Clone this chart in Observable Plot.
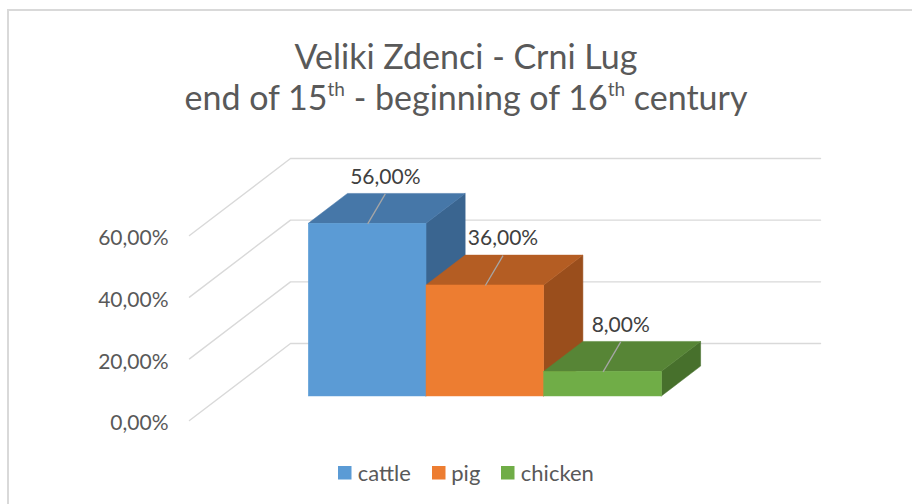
<!DOCTYPE html>
<html>
<head>
<meta charset="utf-8">
<script src="https://cdn.jsdelivr.net/npm/d3@7"></script>
<script src="https://cdn.jsdelivr.net/npm/@observablehq/plot@0.6"></script>
<style>
  body { margin: 0; background: #ffffff; }
  #wrap { position: relative; width: 912px; height: 504px; overflow: hidden; font-family: Lato, "Open Sans", sans-serif; background: #fff; }
  #border { position: absolute; left: 7px; top: 9px; width: 940px; height: 620px; border: 2px solid #d9d9d9; box-sizing: border-box; }
  #title { position: absolute; left: 7px; width: 918px; top: 36px; text-align: center; color: #595959; font-size: 34px; line-height: 40.5px; white-space: nowrap; }
  #title .sup { font-size: 0.56em; position: relative; top: -0.72em; }
  #chart { position: absolute; left: 0; top: 140px; }
  #legend { position: absolute; left: 7px; width: 918px; top: 456px; display: flex; justify-content: center; }
  .lg-swatches { font-family: Lato, sans-serif !important; font-size: 22px !important; color: #595959; margin: 0 !important; }
  .lg-swatch > svg { margin-right: 6px !important; }
  .lg-swatches-wrap .lg-swatch { margin-right: 21px !important; }
  .lg-swatches-wrap .lg-swatch:last-child { margin-right: 0 !important; }
</style>
</head>
<body>
<div id="wrap">
  <div id="border"></div>
  <div id="title">Veliki Zdenci - Crni Lug<br>end of 15<span class="sup">th</span> - beginning of 16<span class="sup">th</span> century</div>
  <div id="chart"></div>
  <div id="legend"></div>
</div>
<script>
// ---- data ----
const categories = ["cattle", "pig", "chicken"];
const shares = [56, 36, 8];            // percent
const yTicks = [0, 20, 40, 60];        // percent

// ---- styles ----
const frontColors = ["#5B9BD5", "#ED7D31", "#70AD47"];
const topColors   = ["#4677A8", "#B45D23", "#578536"];
const sideColors  = ["#3A6590", "#9A4E1C", "#47702C"];
const gridColor = "#d9d9d9";

// ---- 3D (oblique) geometry, in data units ----
const DX = 0.858;   // x shift for full depth (category units)
const DY = 24.97;   // y shift for full depth (percent units)
const T0 = 0.312, T1 = 0.70;   // bar front/back depth
const U0 = -0.746, U1 = 3.757; // floor extent along x
const LDX = 0.15;              // leader horizontal lean

const fmt = v => v.toFixed(2).replace(".", ",") + "%";
const bars = categories.map((c, i) => ({c, i, v: shares[i]}));

// gridlines: left wall diagonal + back wall horizontal
const grid = yTicks.flatMap(v => [
  {v, x: U0, y: v},
  {v, x: U0 + DX, y: v + DY},
  {v, x: U1 + DX, y: v + DY}
]);

const sideMarks = bars.map(d => Plot.areaY([
  {x: d.i + 1 + T0 * DX, y1: T0 * DY, y2: d.v + T0 * DY},
  {x: d.i + 1 + T1 * DX, y1: T1 * DY, y2: d.v + T1 * DY}
], {x: "x", y1: "y1", y2: "y2", fill: sideColors[d.i], stroke: sideColors[d.i], strokeWidth: 0.5}));

const topMarks = bars.map(d => Plot.areaX([
  {y: d.v + T0 * DY, x1: d.i + T0 * DX, x2: d.i + 1 + T0 * DX},
  {y: d.v + T1 * DY, x1: d.i + T1 * DX, x2: d.i + 1 + T1 * DX}
], {y: "y", x1: "x1", x2: "x2", fill: topColors[d.i], stroke: topColors[d.i], strokeWidth: 0.5}));

const frontMarks = bars.map(d => Plot.rect([d], {
  x1: e => e.i + T0 * DX, x2: e => e.i + 1 + T0 * DX,
  y1: e => T0 * DY, y2: e => e.v + T0 * DY,
  fill: frontColors[d.i], stroke: frontColors[d.i], strokeWidth: 0.5
}));

const chart = Plot.plot({
  width: 912,
  height: 300,
  marginLeft: 189,
  marginRight: 92,
  marginTop: 18,
  marginBottom: 20,
  x: {domain: [U0, U1 + DX], axis: null},
  y: {domain: [0, 60 + DY], axis: null},
  style: {fontFamily: "Lato, sans-serif", background: "transparent", overflow: "visible", color: "#595959"},
  marks: [
    Plot.line(grid, {x: "x", y: "y", z: "v", stroke: gridColor, strokeWidth: 1.4}),
    Plot.axisY(yTicks, {tickSize: 0, tickPadding: 21, tickFormat: fmt, fontSize: 21, dy: 3, fill: "#595959", label: null}),
    ...sideMarks,
    ...topMarks,
    ...frontMarks,
    Plot.link(bars, {
      x1: d => d.i + 0.5 + T0 * DX, y1: d => d.v + T0 * DY,
      x2: d => d.i + 0.5 + T0 * DX + LDX, y2: d => d.v + T1 * DY,
      stroke: "#a6a6a6", strokeWidth: 1.3
    }),
    Plot.text(bars, {
      x: d => d.i + 0.5 + T0 * DX + LDX, y: d => d.v + T1 * DY,
      text: d => fmt(d.v), dy: -17, fontSize: 21, fill: "#404040"
    })
  ]
});
document.getElementById("chart").appendChild(chart);

const legend = Plot.legend({
  color: {type: "ordinal", domain: categories, range: frontColors},
  legend: "swatches",
  swatchSize: 13.5,
  className: "lg"
});
document.getElementById("legend").appendChild(legend);
</script>
</body>
</html>
